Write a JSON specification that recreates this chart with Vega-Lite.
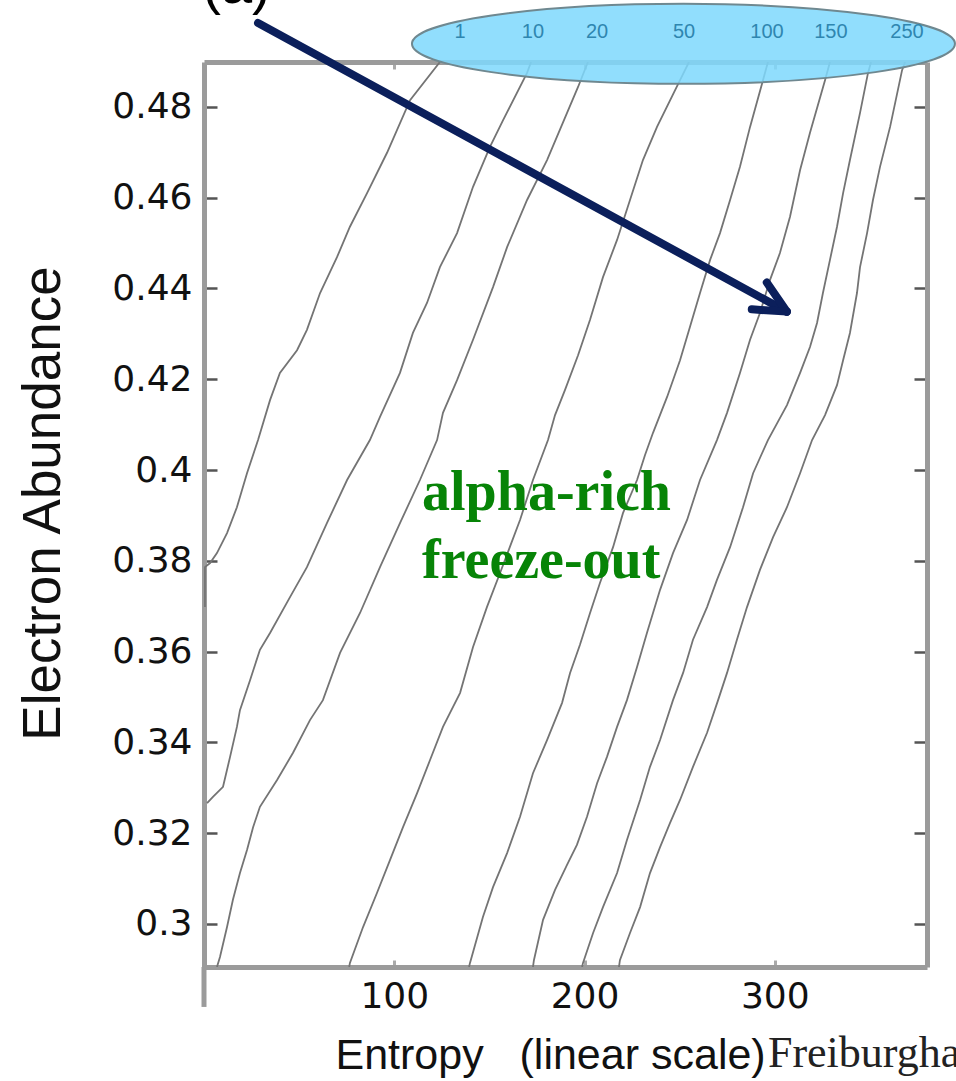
{
  "$schema": "https://vega.github.io/schema/vega-lite/v6.json",
  "width": 723,
  "height": 905,
  "autosize": {"type": "none"},
  "padding": {"left": 204, "top": 62, "right": 29, "bottom": 114},
  "background": "white",
  "config": {"view": {"stroke": null}, "axis": {"grid": false}},
  "resolve": {"axis": {"x": "independent", "y": "independent"}},
  "datasets": {
    "contours": [
      {"c":"A","i":0,"s":124.0,"y":0.4899},{"c":"A","i":1,"s":108.3,"y":0.4815},{"c":"A","i":2,"s":96.2,"y":0.4699},{"c":"A","i":3,"s":85.7,"y":0.4610},{"c":"A","i":4,"s":76.7,"y":0.4536},{"c":"A","i":5,"s":69.9,"y":0.4469},{"c":"A","i":6,"s":61.0,"y":0.4390},{"c":"A","i":7,"s":54.1,"y":0.4309},{"c":"A","i":8,"s":48.9,"y":0.4264},{"c":"A","i":9,"s":39.9,"y":0.4214},{"c":"A","i":10,"s":34.7,"y":0.4154},{"c":"A","i":11,"s":28.4,"y":0.4066},{"c":"A","i":12,"s":22.6,"y":0.3993},{"c":"A","i":13,"s":17.3,"y":0.3918},{"c":"A","i":14,"s":12.1,"y":0.3861},{"c":"A","i":15,"s":6.8,"y":0.3817},{"c":"A","i":16,"s":3.2,"y":0.3795},{"c":"A","i":17,"s":0.5,"y":0.3786},{"c":"A","i":18,"s":0.5,"y":0.3698},
      {"c":"B","i":0,"s":171.9,"y":0.4899},{"c":"B","i":1,"s":169.8,"y":0.4875},{"c":"B","i":2,"s":157.2,"y":0.4771},{"c":"B","i":3,"s":150.3,"y":0.4712},{"c":"B","i":4,"s":141.4,"y":0.4624},{"c":"B","i":5,"s":133.0,"y":0.4522},{"c":"B","i":6,"s":124.0,"y":0.4447},{"c":"B","i":7,"s":117.2,"y":0.4368},{"c":"B","i":8,"s":109.8,"y":0.4302},{"c":"B","i":9,"s":103.0,"y":0.4214},{"c":"B","i":10,"s":92.5,"y":0.4117},{"c":"B","i":11,"s":87.2,"y":0.4066},{"c":"B","i":12,"s":75.2,"y":0.3978},{"c":"B","i":13,"s":64.6,"y":0.3883},{"c":"B","i":14,"s":54.1,"y":0.3786},{"c":"B","i":15,"s":45.2,"y":0.3720},{"c":"B","i":16,"s":34.7,"y":0.3641},{"c":"B","i":17,"s":29.4,"y":0.3604},{"c":"B","i":18,"s":24.2,"y":0.3537},{"c":"B","i":19,"s":18.9,"y":0.3471},{"c":"B","i":20,"s":17.3,"y":0.3434},{"c":"B","i":21,"s":13.7,"y":0.3368},{"c":"B","i":22,"s":10.0,"y":0.3302},{"c":"B","i":23,"s":4.7,"y":0.3280},{"c":"B","i":24,"s":1.6,"y":0.3266},
      {"c":"C","i":0,"s":201.8,"y":0.4899},{"c":"C","i":1,"s":196.6,"y":0.4844},{"c":"C","i":2,"s":180.3,"y":0.4683},{"c":"C","i":3,"s":169.8,"y":0.4595},{"c":"C","i":4,"s":159.3,"y":0.4491},{"c":"C","i":5,"s":151.9,"y":0.4403},{"c":"C","i":6,"s":141.4,"y":0.4287},{"c":"C","i":7,"s":133.0,"y":0.4198},{"c":"C","i":8,"s":125.6,"y":0.4126},{"c":"C","i":9,"s":122.5,"y":0.4066},{"c":"C","i":10,"s":113.5,"y":0.3978},{"c":"C","i":11,"s":103.0,"y":0.3883},{"c":"C","i":12,"s":92.5,"y":0.3786},{"c":"C","i":13,"s":82.0,"y":0.3685},{"c":"C","i":14,"s":71.5,"y":0.3597},{"c":"C","i":15,"s":62.5,"y":0.3493},{"c":"C","i":16,"s":55.7,"y":0.3449},{"c":"C","i":17,"s":46.8,"y":0.3377},{"c":"C","i":18,"s":38.4,"y":0.3317},{"c":"C","i":19,"s":29.4,"y":0.3258},{"c":"C","i":20,"s":25.8,"y":0.3213},{"c":"C","i":21,"s":22.6,"y":0.3163},{"c":"C","i":22,"s":18.9,"y":0.3112},{"c":"C","i":23,"s":15.2,"y":0.3053},{"c":"C","i":24,"s":12.1,"y":0.2993},{"c":"C","i":25,"s":8.4,"y":0.2927},{"c":"C","i":26,"s":6.8,"y":0.2905},
      {"c":"D","i":0,"s":254.9,"y":0.4899},{"c":"D","i":1,"s":250.2,"y":0.4859},{"c":"D","i":2,"s":238.1,"y":0.4756},{"c":"D","i":3,"s":230.7,"y":0.4683},{"c":"D","i":4,"s":223.9,"y":0.4595},{"c":"D","i":5,"s":217.1,"y":0.4507},{"c":"D","i":6,"s":209.7,"y":0.4425},{"c":"D","i":7,"s":202.9,"y":0.4331},{"c":"D","i":8,"s":196.6,"y":0.4253},{"c":"D","i":9,"s":189.7,"y":0.4176},{"c":"D","i":10,"s":184.5,"y":0.4121},{"c":"D","i":11,"s":180.8,"y":0.4066},{"c":"D","i":12,"s":172.9,"y":0.3978},{"c":"D","i":13,"s":166.1,"y":0.3890},{"c":"D","i":14,"s":155.6,"y":0.3773},{"c":"D","i":15,"s":148.7,"y":0.3698},{"c":"D","i":16,"s":141.4,"y":0.3610},{"c":"D","i":17,"s":134.6,"y":0.3509},{"c":"D","i":18,"s":125.6,"y":0.3434},{"c":"D","i":19,"s":118.8,"y":0.3361},{"c":"D","i":20,"s":112.0,"y":0.3288},{"c":"D","i":21,"s":104.6,"y":0.3213},{"c":"D","i":22,"s":97.8,"y":0.3141},{"c":"D","i":23,"s":90.9,"y":0.3068},{"c":"D","i":24,"s":83.6,"y":0.2993},{"c":"D","i":25,"s":76.7,"y":0.2914},{"c":"D","i":26,"s":76.3,"y":0.2905},
      {"c":"E","i":0,"s":296.4,"y":0.4899},{"c":"E","i":1,"s":293.8,"y":0.4859},{"c":"E","i":2,"s":287.0,"y":0.4756},{"c":"E","i":3,"s":281.7,"y":0.4668},{"c":"E","i":4,"s":276.5,"y":0.4595},{"c":"E","i":5,"s":271.2,"y":0.4522},{"c":"E","i":6,"s":266.0,"y":0.4463},{"c":"E","i":7,"s":260.7,"y":0.4390},{"c":"E","i":8,"s":255.4,"y":0.4315},{"c":"E","i":9,"s":250.2,"y":0.4242},{"c":"E","i":10,"s":243.4,"y":0.4161},{"c":"E","i":11,"s":236.0,"y":0.4082},{"c":"E","i":12,"s":231.8,"y":0.4033},{"c":"E","i":13,"s":227.6,"y":0.3978},{"c":"E","i":14,"s":220.2,"y":0.3905},{"c":"E","i":15,"s":215.0,"y":0.3830},{"c":"E","i":16,"s":208.1,"y":0.3751},{"c":"E","i":17,"s":202.9,"y":0.3685},{"c":"E","i":18,"s":197.6,"y":0.3615},{"c":"E","i":19,"s":192.4,"y":0.3553},{"c":"E","i":20,"s":188.2,"y":0.3487},{"c":"E","i":21,"s":180.3,"y":0.3405},{"c":"E","i":22,"s":172.9,"y":0.3332},{"c":"E","i":23,"s":166.1,"y":0.3236},{"c":"E","i":24,"s":159.3,"y":0.3156},{"c":"E","i":25,"s":151.9,"y":0.3081},{"c":"E","i":26,"s":146.6,"y":0.3015},{"c":"E","i":27,"s":139.8,"y":0.2914},{"c":"E","i":28,"s":139.3,"y":0.2905},
      {"c":"F","i":0,"s":329.0,"y":0.4899},{"c":"F","i":1,"s":326.4,"y":0.4859},{"c":"F","i":2,"s":318.5,"y":0.4743},{"c":"F","i":3,"s":313.3,"y":0.4661},{"c":"F","i":4,"s":308.0,"y":0.4558},{"c":"F","i":5,"s":302.7,"y":0.4478},{"c":"F","i":6,"s":297.5,"y":0.4419},{"c":"F","i":7,"s":292.2,"y":0.4346},{"c":"F","i":8,"s":287.0,"y":0.4287},{"c":"F","i":9,"s":281.7,"y":0.4214},{"c":"F","i":10,"s":274.9,"y":0.4126},{"c":"F","i":11,"s":269.6,"y":0.4066},{"c":"F","i":12,"s":260.7,"y":0.3978},{"c":"F","i":13,"s":253.9,"y":0.3890},{"c":"F","i":14,"s":246.5,"y":0.3817},{"c":"F","i":15,"s":239.7,"y":0.3736},{"c":"F","i":16,"s":232.8,"y":0.3641},{"c":"F","i":17,"s":227.6,"y":0.3566},{"c":"F","i":18,"s":222.3,"y":0.3493},{"c":"F","i":19,"s":217.1,"y":0.3434},{"c":"F","i":20,"s":211.8,"y":0.3368},{"c":"F","i":21,"s":206.6,"y":0.3310},{"c":"F","i":22,"s":201.3,"y":0.3236},{"c":"F","i":23,"s":196.0,"y":0.3174},{"c":"F","i":24,"s":190.8,"y":0.3130},{"c":"F","i":25,"s":184.5,"y":0.3075},{"c":"F","i":26,"s":178.2,"y":0.3009},{"c":"F","i":27,"s":173.4,"y":0.2920},{"c":"F","i":28,"s":172.9,"y":0.2905},
      {"c":"G","i":0,"s":350.6,"y":0.4899},{"c":"G","i":1,"s":349.0,"y":0.4875},{"c":"G","i":2,"s":344.8,"y":0.4787},{"c":"G","i":3,"s":339.5,"y":0.4683},{"c":"G","i":4,"s":335.9,"y":0.4610},{"c":"G","i":5,"s":332.7,"y":0.4536},{"c":"G","i":6,"s":329.0,"y":0.4463},{"c":"G","i":7,"s":325.3,"y":0.4390},{"c":"G","i":8,"s":322.2,"y":0.4324},{"c":"G","i":9,"s":318.5,"y":0.4271},{"c":"G","i":10,"s":313.3,"y":0.4214},{"c":"G","i":11,"s":306.4,"y":0.4143},{"c":"G","i":12,"s":296.4,"y":0.4066},{"c":"G","i":13,"s":288.6,"y":0.3993},{"c":"G","i":14,"s":283.3,"y":0.3918},{"c":"G","i":15,"s":276.5,"y":0.3830},{"c":"G","i":16,"s":269.6,"y":0.3758},{"c":"G","i":17,"s":264.4,"y":0.3698},{"c":"G","i":18,"s":257.0,"y":0.3626},{"c":"G","i":19,"s":251.8,"y":0.3553},{"c":"G","i":20,"s":246.5,"y":0.3493},{"c":"G","i":21,"s":239.7,"y":0.3405},{"c":"G","i":22,"s":234.4,"y":0.3346},{"c":"G","i":23,"s":229.2,"y":0.3273},{"c":"G","i":24,"s":222.3,"y":0.3185},{"c":"G","i":25,"s":217.1,"y":0.3112},{"c":"G","i":26,"s":209.7,"y":0.3037},{"c":"G","i":27,"s":204.5,"y":0.2980},{"c":"G","i":28,"s":199.2,"y":0.2914},{"c":"G","i":29,"s":198.7,"y":0.2905},
      {"c":"H","i":0,"s":368.5,"y":0.4899},{"c":"H","i":1,"s":366.9,"y":0.4881},{"c":"H","i":2,"s":360.6,"y":0.4756},{"c":"H","i":3,"s":355.3,"y":0.4668},{"c":"H","i":4,"s":351.6,"y":0.4595},{"c":"H","i":5,"s":348.5,"y":0.4522},{"c":"H","i":6,"s":344.8,"y":0.4447},{"c":"H","i":7,"s":343.2,"y":0.4390},{"c":"H","i":8,"s":339.5,"y":0.4302},{"c":"H","i":9,"s":335.9,"y":0.4242},{"c":"H","i":10,"s":332.7,"y":0.4187},{"c":"H","i":11,"s":326.4,"y":0.4121},{"c":"H","i":12,"s":319.6,"y":0.4066},{"c":"H","i":13,"s":313.3,"y":0.3993},{"c":"H","i":14,"s":306.4,"y":0.3918},{"c":"H","i":15,"s":299.1,"y":0.3852},{"c":"H","i":16,"s":292.2,"y":0.3780},{"c":"H","i":17,"s":285.4,"y":0.3698},{"c":"H","i":18,"s":280.1,"y":0.3626},{"c":"H","i":19,"s":274.9,"y":0.3553},{"c":"H","i":20,"s":270.2,"y":0.3493},{"c":"H","i":21,"s":264.4,"y":0.3421},{"c":"H","i":22,"s":257.0,"y":0.3346},{"c":"H","i":23,"s":250.2,"y":0.3273},{"c":"H","i":24,"s":244.9,"y":0.3222},{"c":"H","i":25,"s":239.7,"y":0.3169},{"c":"H","i":26,"s":234.4,"y":0.3112},{"c":"H","i":27,"s":229.2,"y":0.3037},{"c":"H","i":28,"s":223.9,"y":0.2980},{"c":"H","i":29,"s":218.6,"y":0.2920},{"c":"H","i":30,"s":218.1,"y":0.2905}
    ],
    "region": [
      {"t":"alpha-rich","s":114.6,"y":0.3912},
      {"t":"freeze-out","s":114.6,"y":0.3762}
    ],
    "ellipse": [{"s":252.0,"y":0.4939}],
    "ellipseLabels": [
      {"t":"1","s":134.6},{"t":"10","s":172.9},{"t":"20","s":206.6},{"t":"50","s":252.3},{"t":"100","s":295.9},{"t":"150","s":329.5},{"t":"250","s":369.5}
    ],
    "arrow": [
      {"s":28.4,"y":0.4985,"s2":306.3,"y2":0.4349},
      {"s":295.8,"y":0.4413,"s2":306.3,"y2":0.4349},
      {"s":287.9,"y":0.4354,"s2":306.3,"y2":0.4349}
    ],
    "axisExt": [{"s":0,"y":0.2905,"y2":0.2817}],
    "notes": [
      {"t":"(a)","s":17.1,"y":0.5029,"k":"a"},
      {"t":"Freiburgha","s":296.4,"y":0.2685,"k":"f"}
    ]
  },
  "layer": [
    {
      "data": {"name": "contours"},
      "mark": {"type": "line", "stroke": "#747474", "strokeWidth": 1.8, "clip": true},
      "encoding": {
        "x": {"field": "s", "type": "quantitative",
          "scale": {"domain": [0, 380], "nice": false, "zero": false},
          "axis": {"orient": "bottom", "values": [100, 200, 300],
            "title": "Entropy\u00a0\u00a0\u00a0(linear scale)",
            "titleFont": "Liberation Sans", "titleFontSize": 43, "titleFontWeight": "normal", "titleColor": "#111111",
            "titleX": 131, "titleY": 101, "titleAlign": "left", "titleBaseline": "alphabetic", "titleAnchor": "start",
            "labelFont": "DejaVu Sans", "labelFontSize": 36, "labelColor": "#111111", "labelPadding": 19, "labelFlush": false,
            "tickSize": -7, "tickColor": "#aaaaaa", "tickWidth": 3,
            "domainColor": "#9b9b9b", "domainWidth": 5}},
        "y": {"field": "y", "type": "quantitative",
          "scale": {"domain": [0.2905, 0.4899], "nice": false, "zero": false},
          "axis": {"orient": "left", "values": [0.3, 0.32, 0.34, 0.36, 0.38, 0.4, 0.42, 0.44, 0.46, 0.48], "format": ".2~f",
            "title": "Electron Abundance",
            "titleFont": "Liberation Sans", "titleFontSize": 53, "titleFontWeight": "normal", "titleColor": "#111111",
            "titleX": -145, "titleY": 441, "titleAngle": -90, "titleAlign": "center", "titleBaseline": "alphabetic",
            "labelFont": "DejaVu Sans", "labelFontSize": 36, "labelColor": "#111111", "labelPadding": 25, "labelFlush": false,
            "tickSize": -13, "tickColor": "#555555", "tickWidth": 2.5,
            "domainColor": "#9b9b9b", "domainWidth": 5}},
        "detail": {"field": "c", "type": "nominal"},
        "order": {"field": "i", "type": "quantitative"}
      }
    },
    {
      "data": {"name": "region"},
      "mark": {"type": "text", "align": "left", "baseline": "alphabetic", "font": "Liberation Serif", "fontWeight": "bold", "fontSize": 56, "color": "#078407"},
      "encoding": {
        "x": {"field": "s", "type": "quantitative",
          "scale": {"domain": [0, 380], "nice": false, "zero": false},
          "axis": {"orient": "top", "values": [100, 200, 300], "labels": false, "title": null,
            "tickSize": -7, "tickColor": "#aaaaaa", "tickWidth": 3,
            "domainColor": "#9b9b9b", "domainWidth": 5}},
        "y": {"field": "y", "type": "quantitative",
          "scale": {"domain": [0.2905, 0.4899], "nice": false, "zero": false},
          "axis": {"orient": "right", "values": [0.3, 0.32, 0.34, 0.36, 0.38, 0.4, 0.42, 0.44, 0.46, 0.48], "labels": false, "title": null,
            "tickSize": -13, "tickColor": "#555555", "tickWidth": 2.5,
            "domainColor": "#9b9b9b", "domainWidth": 5}},
        "text": {"field": "t", "type": "nominal"}
      }
    },
    {
      "data": {"name": "axisExt"},
      "mark": {"type": "rule", "stroke": "#9b9b9b", "strokeWidth": 5},
      "encoding": {
        "x": {"field": "s", "type": "quantitative", "axis": null},
        "y": {"field": "y", "type": "quantitative", "axis": null},
        "y2": {"field": "y2"}
      }
    },
    {
      "data": {"name": "ellipse"},
      "mark": {"type": "point", "shape": "M-1,0C-1,-0.0814,-0.5523,-0.1473,0,-0.1473C0.5523,-0.1473,1,-0.0814,1,0C1,0.0814,0.5523,0.1473,0,0.1473C-0.5523,0.1473,-1,0.0814,-1,0Z", "size": 294849, "filled": true, "fill": "#7fd9fd", "fillOpacity": 0.86, "stroke": "#6f8890", "strokeWidth": 2, "opacity": 1},
      "encoding": {
        "x": {"field": "s", "type": "quantitative", "axis": null},
        "y": {"field": "y", "type": "quantitative", "axis": null}
      }
    },
    {
      "data": {"name": "ellipseLabels"},
      "mark": {"type": "text", "align": "center", "baseline": "middle", "font": "Liberation Sans", "fontSize": 20, "color": "#2f86b0"},
      "encoding": {
        "x": {"field": "s", "type": "quantitative", "axis": null},
        "y": {"datum": 0.4965, "type": "quantitative", "axis": null},
        "text": {"field": "t", "type": "nominal"}
      }
    },
    {
      "data": {"name": "arrow"},
      "mark": {"type": "rule", "stroke": "#0b1f5b", "strokeWidth": 8, "strokeCap": "round"},
      "encoding": {
        "x": {"field": "s", "type": "quantitative", "axis": null},
        "y": {"field": "y", "type": "quantitative", "axis": null},
        "x2": {"field": "s2"},
        "y2": {"field": "y2"}
      }
    },
    {
      "data": {"name": "notes"},
      "transform": [{"filter": "datum.k === 'a'"}],
      "mark": {"type": "text", "align": "center", "baseline": "alphabetic", "font": "Liberation Sans", "fontSize": 56, "color": "#000000"},
      "encoding": {
        "x": {"field": "s", "type": "quantitative", "axis": null},
        "y": {"field": "y", "type": "quantitative", "axis": null},
        "text": {"field": "t", "type": "nominal"}
      }
    },
    {
      "data": {"name": "notes"},
      "transform": [{"filter": "datum.k === 'f'"}],
      "mark": {"type": "text", "align": "left", "baseline": "alphabetic", "font": "Liberation Serif", "fontSize": 44, "color": "#222222"},
      "encoding": {
        "x": {"field": "s", "type": "quantitative", "axis": null},
        "y": {"field": "y", "type": "quantitative", "axis": null},
        "text": {"field": "t", "type": "nominal"}
      }
    }
  ]
}
